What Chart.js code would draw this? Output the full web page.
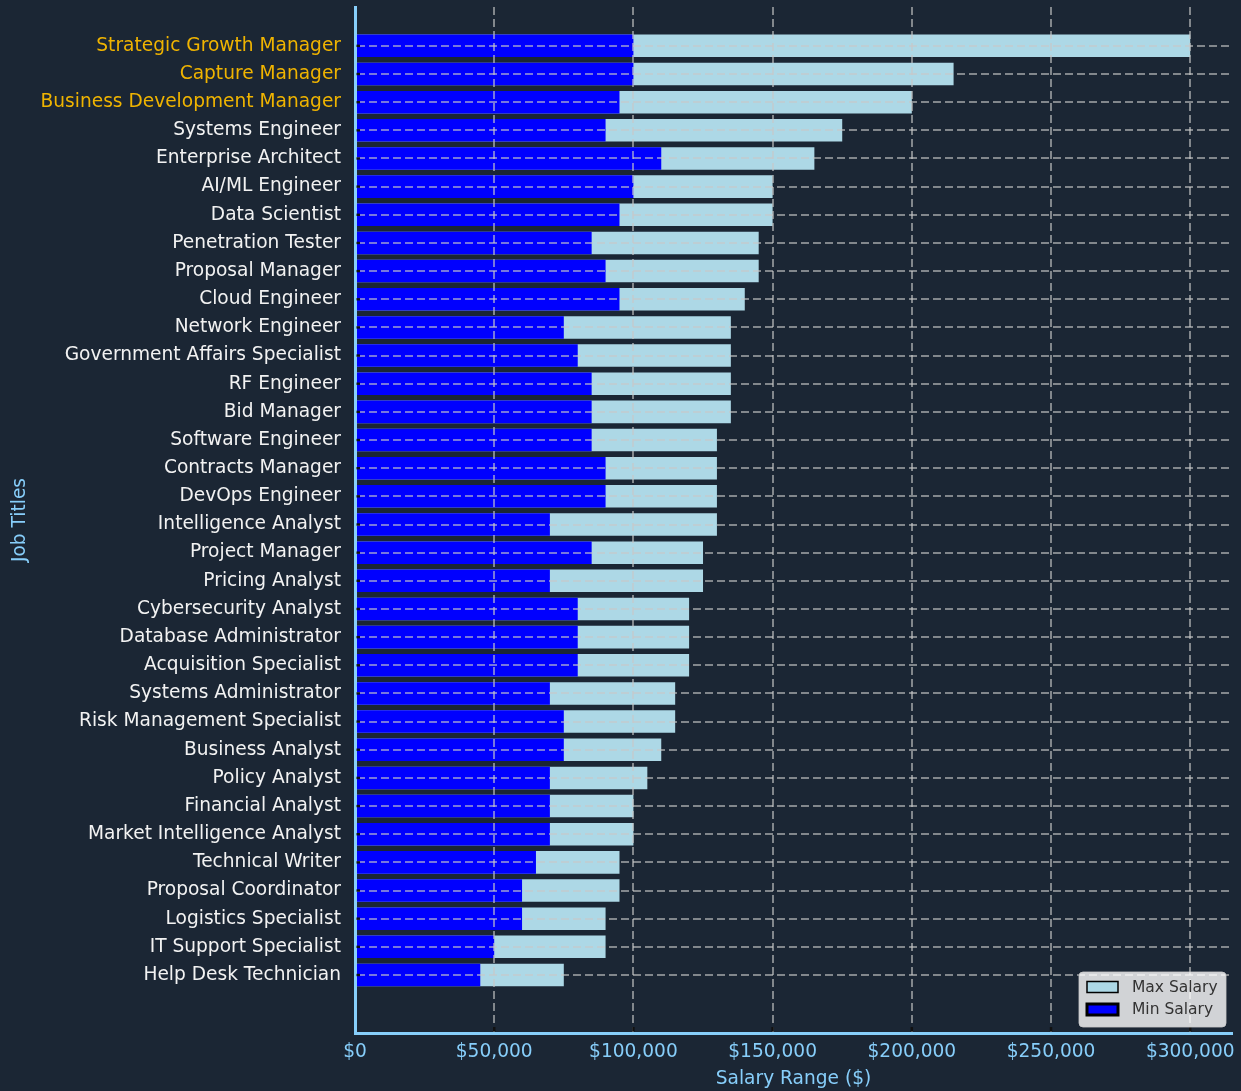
<!DOCTYPE html>
<html>
<head>
<meta charset="utf-8">
<script src="https://cdn.jsdelivr.net/npm/chart.js@4.4.1/dist/chart.umd.min.js"></script>
<style>
  html, body { margin: 0; padding: 0; background: #1b2634; }
  #wrap { width: 1241px; height: 1091px; }
</style>
</head>
<body>
<div id="wrap"><canvas id="c" width="1241" height="1091"></canvas></div>
<script>
const jobTitles = [
  "Strategic Growth Manager", "Capture Manager", "Business Development Manager",
  "Systems Engineer", "Enterprise Architect", "AI/ML Engineer", "Data Scientist",
  "Penetration Tester", "Proposal Manager", "Cloud Engineer", "Network Engineer",
  "Government Affairs Specialist", "RF Engineer", "Bid Manager", "Software Engineer",
  "Contracts Manager", "DevOps Engineer", "Intelligence Analyst", "Project Manager",
  "Pricing Analyst", "Cybersecurity Analyst", "Database Administrator",
  "Acquisition Specialist", "Systems Administrator", "Risk Management Specialist",
  "Business Analyst", "Policy Analyst", "Financial Analyst",
  "Market Intelligence Analyst", "Technical Writer", "Proposal Coordinator",
  "Logistics Specialist", "IT Support Specialist", "Help Desk Technician"
];
const minSalary = [
  100000, 100000, 95000, 90000, 110000, 100000, 95000, 85000, 90000, 95000, 75000,
  80000, 85000, 85000, 85000, 90000, 90000, 70000, 85000, 70000, 80000, 80000,
  80000, 70000, 75000, 75000, 70000, 70000, 70000, 65000, 60000, 60000, 50000, 45000
];
const maxSalary = [
  300000, 215000, 200000, 175000, 165000, 150000, 150000, 145000, 145000, 140000, 135000,
  135000, 135000, 135000, 130000, 130000, 130000, 130000, 125000, 125000, 120000, 120000,
  120000, 115000, 115000, 110000, 105000, 100000, 100000, 95000, 95000, 90000, 90000, 75000
];
const highlightedTitles = ["Strategic Growth Manager", "Capture Manager", "Business Development Manager"];
const xTickValues = [0, 50000, 100000, 150000, 200000, 250000, 300000];
const seriesLabels = ["Max Salary", "Min Salary"];

const FONT = "'DejaVu Sans', 'Liberation Sans', sans-serif";
const C_BG = "#1b2634";
const C_MAX = "#add8e6";
const C_MIN = "#0000ff";
const C_AXIS = "#87cefa";
const C_GRID = "rgba(200,200,200,0.6)";

const extrasPlugin = {
  id: 'extras',
  beforeDraw(chart) {
    const ctx = chart.ctx;
    ctx.save();
    ctx.fillStyle = C_BG;
    ctx.fillRect(0, 0, chart.width, chart.height);
    ctx.restore();
  },
  afterDraw(chart) {
    const ctx = chart.ctx;
    const xs = chart.scales.x, ys = chart.scales.y;
    const area = chart.chartArea;
    ctx.save();
    // small inward tick marks
    ctx.fillStyle = "#111111";
    jobTitles.forEach((t, i) => {
      const py = ys.getPixelForValue(i);
      ctx.fillRect(area.left + 1.5, py - 1.2, 3.5, 2.4);
    });
    xTickValues.forEach(v => {
      const px = xs.getPixelForValue(v);
      if (v === 0) return;
      ctx.fillRect(px - 1.2, area.bottom - 6, 2.4, 4.5);
    });
    // legend
    const lx = 1079, ly = 972, lw = 147, lh = 55, r = 4;
    ctx.beginPath();
    ctx.moveTo(lx + r, ly);
    ctx.arcTo(lx + lw, ly, lx + lw, ly + lh, r);
    ctx.arcTo(lx + lw, ly + lh, lx, ly + lh, r);
    ctx.arcTo(lx, ly + lh, lx, ly, r);
    ctx.arcTo(lx, ly, lx + lw, ly, r);
    ctx.closePath();
    ctx.fillStyle = "rgba(255,255,255,0.8)";
    ctx.fill();
    ctx.strokeStyle = "rgba(204,204,204,0.8)";
    ctx.lineWidth = 1;
    ctx.stroke();
    const items = [
      { label: chart.data.datasets[0].label, color: chart.data.datasets[0].backgroundColor, y: 987, bw: 1.5 },
      { label: chart.data.datasets[1].label, color: chart.data.datasets[1].backgroundColor, y: 1009.5, bw: 3 }
    ];
    items.forEach(it => {
      ctx.fillStyle = it.color;
      ctx.fillRect(1087, it.y - 5.5, 31, 11);
      ctx.strokeStyle = "#000000";
      ctx.lineWidth = it.bw;
      ctx.strokeRect(1087, it.y - 5.5, 31, 11);
      ctx.fillStyle = "#333333";
      ctx.font = "15.5px " + FONT;
      ctx.textBaseline = "middle";
      ctx.textAlign = "left";
      ctx.fillText(it.label, 1132, it.y + 0.5);
    });
    ctx.restore();
  }
};

new Chart(document.getElementById('c'), {
  type: 'bar',
  data: {
    datasets: [
      {
        label: seriesLabels[0],
        data: maxSalary.map((v, i) => ({ x: v, y: i })),
        backgroundColor: C_MAX,
        borderWidth: 0,
        order: 1
      },
      {
        label: seriesLabels[1],
        data: minSalary.map((v, i) => ({ x: v, y: i })),
        backgroundColor: C_MIN,
        borderWidth: 0,
        order: 0
      }
    ]
  },
  options: {
    indexAxis: 'y',
    responsive: false,
    devicePixelRatio: 1,
    animation: false,
    grouped: false,
    barPercentage: 0.8,
    categoryPercentage: 1.0,
    layout: { padding: { top: 7, right: 9, left: 0, bottom: 0 } },
    plugins: {
      legend: { display: false },
      tooltip: { enabled: false }
    },
    scales: {
      x: {
        type: 'linear',
        position: 'bottom',
        min: 0,
        max: 315000,
        offset: false,
        afterBuildTicks: (s) => { s.ticks = xTickValues.map(v => ({ value: v })); },
        afterFit: (s) => { s.height = 58; s.paddingLeft = 0; s.paddingRight = 0; },
        grid: { color: C_GRID, lineWidth: 2, drawTicks: false, offset: false, z: 1 },
        border: { display: true, color: C_AXIS, width: 3, dash: [8, 4], z: 2 },
        ticks: {
          color: C_AXIS,
          padding: 8,
          font: { family: FONT, size: 18.6 },
          maxRotation: 0,
          callback: (v) => '$' + Number(v).toLocaleString('en-US')
        },
        title: {
          display: true,
          text: 'Salary Range ($)',
          color: C_AXIS,
          font: { family: FONT, size: 18.6 },
          padding: { top: 0, bottom: 1 }
        }
      },
      y: {
        type: 'linear',
        position: 'left',
        reverse: true,
        min: -1.38,
        max: 35.06,
        offset: false,
        afterBuildTicks: (s) => { s.ticks = jobTitles.map((t, i) => ({ value: i })); },
        afterFit: (s) => { s.width = 355; s.paddingTop = 0; s.paddingBottom = 0; },
        grid: { color: C_GRID, lineWidth: 2, drawTicks: false, offset: false, z: 1 },
        border: { display: true, color: C_AXIS, width: 3, dash: [8, 4], z: 2 },
        ticks: {
          padding: 14,
          autoSkip: false,
          font: { family: FONT, size: 18.6 },
          color: (ctx) => {
            const name = jobTitles[ctx.tick ? ctx.tick.value : 0];
            return highlightedTitles.includes(name) ? '#f0b400' : '#f2f2f2';
          },
          callback: (v) => jobTitles[v]
        },
        title: {
          display: true,
          text: 'Job Titles',
          color: C_AXIS,
          font: { family: FONT, size: 18.6 },
          padding: { top: 9, bottom: 0 }
        }
      }
    }
  },
  plugins: [extrasPlugin]
});
</script>
</body>
</html>
